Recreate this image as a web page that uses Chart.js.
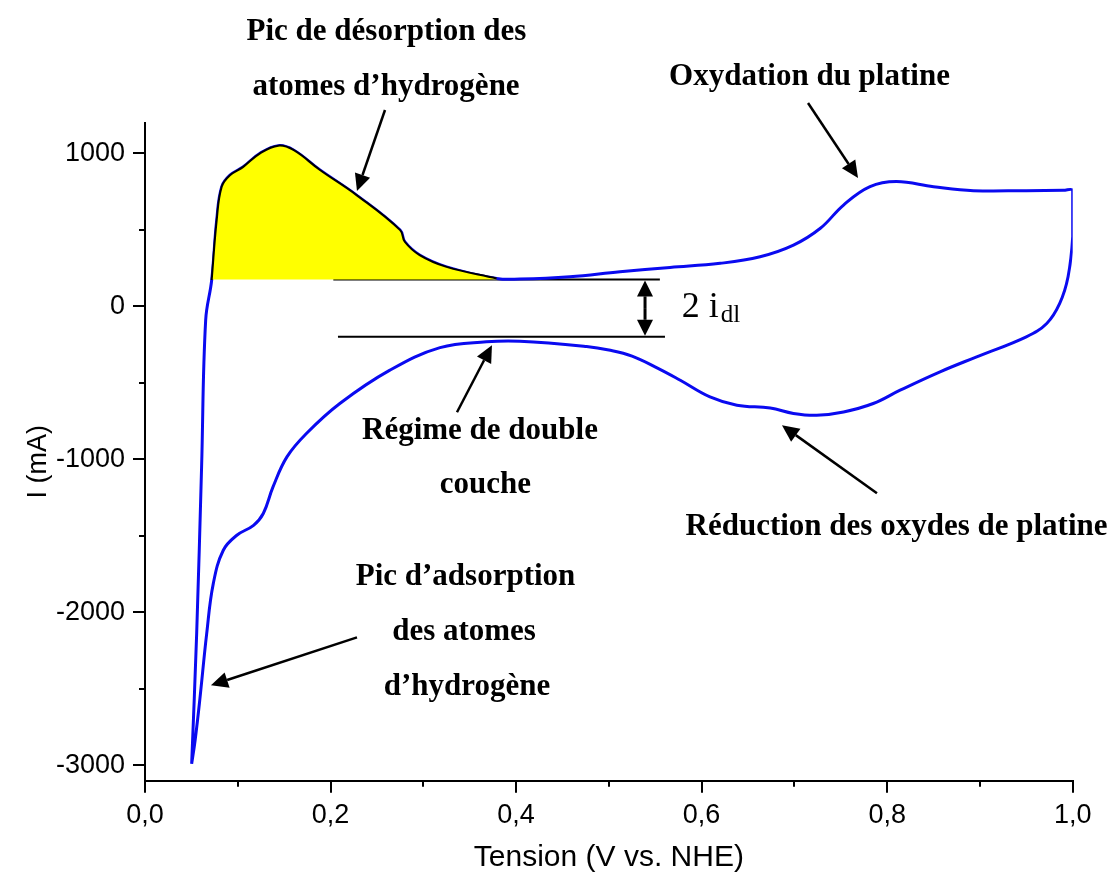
<!DOCTYPE html>
<html>
<head>
<meta charset="utf-8">
<script src="https://cdn.jsdelivr.net/npm/chart.js@4"></script>
<style>
  html, body { margin: 0; padding: 0; background: #fff; }
  #wrap { width: 1117px; height: 877px; }
</style>
</head>
<body>
<div id="wrap"><canvas id="cv" width="1117" height="877"></canvas></div>
<script>
// Cyclic voltammogram of platinum: anodic sweep (0.05 V -> 1.0 V)
const anodicV = [0.0503, 0.0557, 0.061, 0.0654, 0.0719, 0.0773, 0.0827, 0.0916, 0.1056, 0.124, 0.1437, 0.160, 0.1886, 0.228, 0.275, 0.280, 0.296, 0.325, 0.379, 0.404, 0.458, 0.512, 0.566, 0.620, 0.663, 0.699, 0.728, 0.753, 0.7815, 0.810, 0.850, 0.893, 0.950, 0.990, 1.0];
const anodicI = [-2990, -2138, -1050, -90, 172, 564, 782, 857, 910, 1000, 1050, 1022, 891, 727, 498, 422, 335, 258, 182, 178, 193, 226, 254, 281, 324, 400, 510, 662, 782, 815, 782, 756, 756, 758, 760];

// Cathodic sweep (1.0 V -> 0.05 V)
const cathodicV = [1.0, 1.0, 0.995, 0.986, 0.972, 0.950, 0.8965, 0.857, 0.814, 0.785, 0.753, 0.724, 0.699, 0.674, 0.638, 0.609, 0.577, 0.553, 0.525, 0.500, 0.476, 0.404, 0.368, 0.318, 0.264, 0.210, 0.174, 0.153, 0.138, 0.1275, 0.117, 0.099, 0.0844, 0.0736, 0.0665, 0.059, 0.054, 0.0503];
const cathodicI = [700, 455, 193, 19, -112, -199, -330, -428, -548, -635, -690, -712, -700, -665, -646, -592, -483, -405, -325, -285, -262, -228, -232, -270, -417, -635, -831, -984, -1180, -1354, -1431, -1496, -1594, -1812, -2139, -2575, -2837, -2990];

// Hydrogen desorption charge: area above the double-layer current
const desorptionStartV = 0.0719;
const desorptionEndV = 0.38;

// Double-layer currents (2 i_dl)
const dlUpperI = 176;
const dlLowerI = -199;
const dlUpperV = [0.203, 0.555];
const dlLowerV = [0.208, 0.5605];
const dlArrowV = 0.539;

// Axis ticks
const xMajorTicks = [0, 0.2, 0.4, 0.6, 0.8, 1.0];
const xMinorTicks = [0.1, 0.3, 0.5, 0.7, 0.9];
const yMajorTicks = [-3000, -2000, -1000, 0, 1000];
const yMinorTicks = [-2500, -1500, -500, 500];

// Text labels (anchor = centre / baseline, in V and mA)
const labelText = [
  'Pic de désorption des', 'atomes d’hydrogène',
  'Oxydation du platine',
  'Régime de double', 'couche',
  'Réduction des oxydes de platine',
  'Pic d’adsorption', 'des atomes', 'd’hydrogène'
];
const labelV = [0.2603, 0.2598, 0.7163, 0.3611, 0.3670, 0.8101, 0.3455, 0.3439, 0.3471];
const labelI = [1741, 1381, 1447, -870, -1220, -1496, -1823, -2183, -2543];

// Pointer arrows: tail -> head
const arrowFromV = [0.2587, 0.7147, 0.3363, 0.789, 0.2285];
const arrowFromI = [1283, 1329, -692, -1222, -2163];
const arrowToV = [0.2285, 0.7686, 0.3740, 0.6866, 0.0711];
const arrowToI = [753, 838, -254, -777, -2477];

const loopPoints = anodicV.map((v, i) => ({ x: v, y: anodicI[i] }))
  .concat(cathodicV.map((v, i) => ({ x: v, y: cathodicI[i] })));
const desorptionPoints = anodicV
  .map((v, i) => ({ x: v, y: anodicI[i] }))
  .filter(p => p.x >= desorptionStartV && p.x <= desorptionEndV);

function drawArrow(ctx, x1, y1, x2, y2, head, half) {
  const a = Math.atan2(y2 - y1, x2 - x1);
  const bx = x2 - head * Math.cos(a), by = y2 - head * Math.sin(a);
  ctx.beginPath();
  ctx.moveTo(x1, y1);
  ctx.lineTo(bx, by);
  ctx.stroke();
  ctx.beginPath();
  ctx.moveTo(x2, y2);
  ctx.lineTo(bx + half * Math.sin(a), by - half * Math.cos(a));
  ctx.lineTo(bx - half * Math.sin(a), by + half * Math.cos(a));
  ctx.closePath();
  ctx.fill();
}

const annotations = {
  id: 'annotations',
  afterDraw(chart) {
    const ctx = chart.ctx;
    const xs = chart.scales.x, ys = chart.scales.y;
    const area = chart.chartArea;
    ctx.save();
    ctx.strokeStyle = '#000';
    ctx.fillStyle = '#000';

    // minor ticks
    ctx.lineWidth = 2;
    xMinorTicks.forEach(v => {
      const px = Math.round(xs.getPixelForValue(v));
      ctx.beginPath(); ctx.moveTo(px, area.bottom); ctx.lineTo(px, area.bottom + 6); ctx.stroke();
    });
    yMinorTicks.forEach(v => {
      const py = Math.round(ys.getPixelForValue(v));
      ctx.beginPath(); ctx.moveTo(area.left - 6, py); ctx.lineTo(area.left, py); ctx.stroke();
    });

    // y axis title
    ctx.save();
    ctx.translate(39, (area.top + area.bottom) / 2 + 10);
    ctx.rotate(-Math.PI / 2);
    ctx.font = '27px "Liberation Sans", Arial, sans-serif';
    ctx.textAlign = 'center';
    ctx.textBaseline = 'middle';
    ctx.fillText('I (mA)', 0, 0);
    ctx.restore();

    // pointer arrows
    ctx.lineWidth = 2.5;
    arrowFromV.forEach((v, i) => {
      drawArrow(ctx,
        xs.getPixelForValue(v), ys.getPixelForValue(arrowFromI[i]),
        xs.getPixelForValue(arrowToV[i]), ys.getPixelForValue(arrowToI[i]), 17, 8);
    });

    // double-headed arrow between the double-layer levels
    const ax = xs.getPixelForValue(dlArrowV);
    const yTop = ys.getPixelForValue(dlUpperI), yBot = ys.getPixelForValue(dlLowerI);
    const ym = (yTop + yBot) / 2;
    ctx.lineWidth = 3;
    drawArrow(ctx, ax, ym, ax, yTop + 1, 16, 8);
    drawArrow(ctx, ax, ym, ax, yBot - 1, 16, 8);

    // 2 i_dl
    const tx = xs.getPixelForValue(0.5785), tyb = ys.getPixelForValue(-69);
    ctx.textAlign = 'left';
    ctx.textBaseline = 'alphabetic';
    ctx.font = '36px "Liberation Serif"';
    ctx.fillText('2 i', tx, tyb);
    const w = ctx.measureText('2 i').width;
    ctx.font = '25px "Liberation Serif"';
    ctx.fillText('dl', tx + w + 2, tyb + 5);

    // bold labels
    ctx.font = 'bold 31px "Liberation Serif"';
    ctx.textAlign = 'center';
    labelText.forEach((t, i) => {
      ctx.fillText(t, xs.getPixelForValue(labelV[i]), ys.getPixelForValue(labelI[i]));
    });
    ctx.restore();
  }
};

const tickFont = { family: '"Liberation Sans", Arial, sans-serif', size: 27 };
const titleFont = { family: '"Liberation Sans", Arial, sans-serif', size: 30 };

new Chart(document.getElementById('cv'), {
  type: 'scatter',
  data: {
    datasets: [
      {
        label: 'désorption H',
        data: desorptionPoints,
        showLine: true,
        fill: { value: dlUpperI },
        backgroundColor: '#ffff00',
        borderColor: '#000000',
        borderWidth: 2,
        pointRadius: 0,
        tension: 0.4,
        order: 0
      },
      {
        label: 'voltammogramme',
        data: loopPoints,
        showLine: true,
        borderColor: '#0a0af0',
        borderWidth: 3,
        pointRadius: 0,
        tension: 0.4,
        fill: false,
        order: 1
      },
      {
        label: 'i_dl +',
        data: dlUpperV.map(v => ({ x: v, y: dlUpperI })),
        showLine: true,
        borderColor: '#000',
        borderWidth: 2,
        pointRadius: 0,
        order: 2
      },
      {
        label: 'i_dl -',
        data: dlLowerV.map(v => ({ x: v, y: dlLowerI })),
        showLine: true,
        borderColor: '#000',
        borderWidth: 2,
        pointRadius: 0,
        order: 2
      }
    ]
  },
  options: {
    responsive: false,
    animation: false,
    devicePixelRatio: 1,
    layout: { padding: { left: 0, top: 122.7, right: 44.3, bottom: 0 } },
    plugins: { legend: { display: false }, tooltip: { enabled: false } },
    scales: {
      x: {
        type: 'linear',
        min: 0, max: 1.0,
        afterBuildTicks: s => { s.ticks = xMajorTicks.map(v => ({ value: v })); },
        afterFit: s => { s.height = 96.3; },
        border: { display: true, color: '#000', width: 2 },
        grid: { drawOnChartArea: false, drawTicks: true, tickLength: 12, color: '#000', lineWidth: 2 },
        ticks: {
          color: '#000', font: tickFont, padding: 7, maxRotation: 0,
          callback: v => v.toFixed(1).replace('.', ',')
        },
        title: { display: true, text: 'Tension (V vs. NHE)', color: '#000', font: titleFont, padding: { top: 0, bottom: 1 } }
      },
      y: {
        type: 'linear',
        min: -3100, max: 1200,
        afterBuildTicks: s => { s.ticks = yMajorTicks.map(v => ({ value: v })); },
        afterFit: s => { s.width = 145; },
        border: { display: true, color: '#000', width: 2 },
        grid: { drawOnChartArea: false, drawTicks: true, tickLength: 12, color: '#000', lineWidth: 2 },
        ticks: {
          color: '#000', font: tickFont, padding: 8,
          callback: v => String(v)
        },
        title: { display: false }
      }
    }
  },
  plugins: [annotations]
});
</script>
</body>
</html>
